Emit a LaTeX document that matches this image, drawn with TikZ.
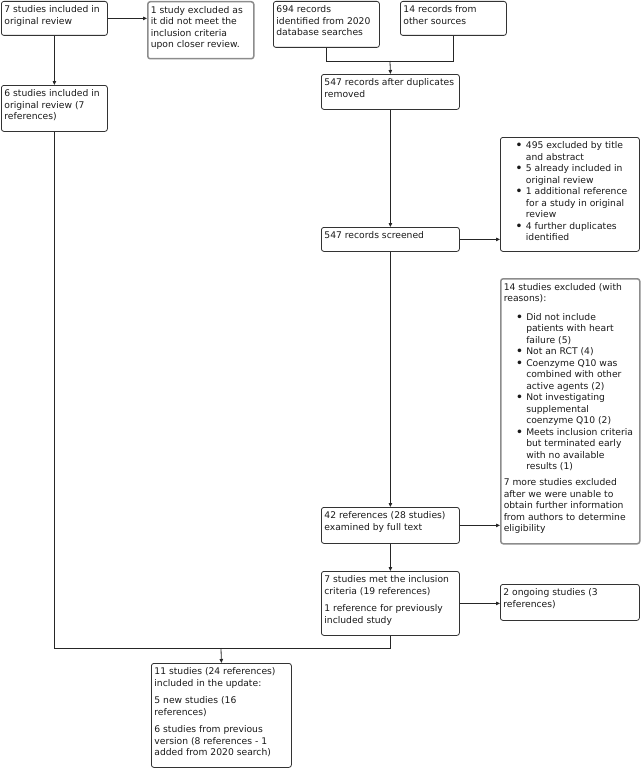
\documentclass[tikz,border=0pt]{standalone}
\usepackage{fontspec}
\setmainfont{DejaVu Sans}
\usetikzlibrary{arrows.meta}
\tikzset{
  box/.style={draw=black!80, line width=0.8pt, rounded corners=2.5pt, inner xsep=3pt, inner ysep=0pt, anchor=north west, text=black!90},
  gbox/.style={box, draw=black!45, line width=1.5pt},
  arr/.style={draw=black!85, line width=0.8pt, -{Triangle[length=4pt,width=3.5pt]}},
  ln/.style={draw=black!85, line width=0.8pt},
}
\newcommand\bt[3]{\parbox[c][#2pt][t]{#1pt}{\fontsize{9.2pt}{11.5pt}\selectfont\raggedright\parskip=0pt\vspace*{3.5pt}#3}}
\newcommand\bul{\par\hangindent=22.5pt\hangafter=1\noindent\hspace*{12pt}\makebox[10.5pt][l]{\raisebox{-0.8pt}{\fontsize{12.5pt}{12pt}\selectfont •}}\strut}
\newcommand\nl{\newline\strut}
\newcommand\gap{\par\vspace{6pt}\noindent\strut}
\begin{document}
\begin{tikzpicture}[x=1pt,y=-1pt]
\useasboundingbox (0,0) rectangle (642,768);
\node[box]  (A) at (1,1)     {\bt{100}{34}{\strut 7 studies included in\\original review}};
\node[gbox] (B) at (147,1)   {\bt{100}{57}{\strut 1 study excluded as\\it did not meet the\\inclusion criteria\\upon closer review.}};
\node[box]  (C) at (273,1)   {\bt{100}{46}{\strut 694 records\\identified from 2020\\database searches}};
\node[box]  (D) at (400,1)   {\bt{100}{34}{\strut 14 records from\\other sources}};
\node[box]  (E) at (321,74)  {\bt{132}{35}{\strut 547 records after duplicates\\removed}};
\node[box]  (F) at (1,85)    {\bt{100}{46}{\strut 6 studies included in\\original review (7\\references)}};
\node[box]  (G) at (500,137) {\bt{133}{114}{\bul 495 excluded by title\nl and abstract\bul 5 already included in\nl original review\bul 1 additional reference\nl for a study in original\nl review\bul 4 further duplicates\nl identified}};
\node[box]  (H) at (321,227) {\bt{132}{24}{\strut 547 records screened}};
\node[gbox] (I) at (500,278) {\bt{133}{265}{\strut 14 studies excluded (with\\reasons):\par\vspace{7pt}\bul Did not include\nl patients with heart\nl failure (5)\bul Not an RCT (4)\bul Coenzyme Q10 was\nl combined with other\nl active agents (2)\bul Not investigating\nl supplemental\nl coenzyme Q10 (2)\bul Meets inclusion criteria\nl but terminated early\nl with no available\nl results (1)\par\vspace{4.5pt}\noindent\strut 7 more studies excluded\\after we were unable to\\obtain further information\\from authors to determine\\eligibility}};
\node[box]  (J) at (321,507) {\bt{132}{36}{\strut 42 references (28 studies)\\examined by full text}};
\node[box]  (K) at (321,571) {\bt{132}{64}{\strut 7 studies met the inclusion\\criteria (19 references)\gap 1 reference for previously\\included study}};
\node[box]  (L) at (500,584) {\bt{133}{36}{\strut 2 ongoing studies (3\\references)}};
\node[box]  (M) at (151,663) {\bt{134}{104}{\strut 11 studies (24 references)\\included in the update:\gap 5 new studies (16\\references)\gap 6 studies from previous\\version (8 references - 1\\added from 2020 search)}};
\coordinate (m1) at (390,61);
\coordinate (m2) at (221,648);
\draw[arr] (A.east) -- (A.east -| B.west);
\draw[arr] (A.south) -- (F.north);
\draw[ln] (C.south) -- (C.south |- m1) -- (D.south |- m1) -- (D.south);
\draw[arr] (m1) -- (E.north);
\draw[arr] (E.south) -- (H.north);
\draw[arr] (H.east) -- (H.east -| G.west);
\draw[arr] (H.south) -- (J.north);
\draw[arr] (J.east) -- (J.east -| I.west);
\draw[arr] (J.south) -- (K.north);
\draw[arr] (K.east) -- (K.east -| L.west);
\draw[ln] (F.south) -- (F.south |- m2) -- (K.south |- m2) -- (K.south);
\draw[arr] (m2) -- (M.north);
\end{tikzpicture}
\end{document}
